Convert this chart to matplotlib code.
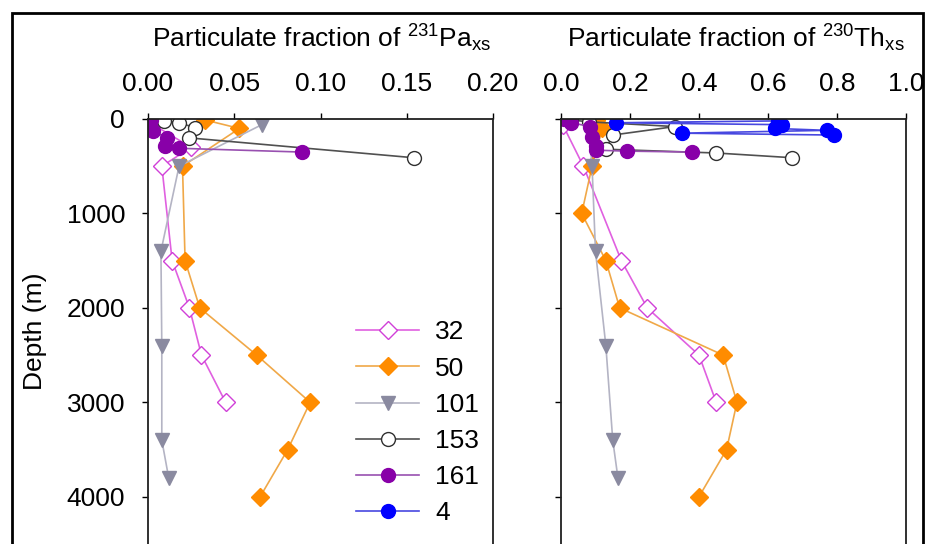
import matplotlib
matplotlib.use("Agg")
import matplotlib.pyplot as plt
from matplotlib.patches import Rectangle

plt.rcParams['font.family'] = ['Liberation Sans', 'DejaVu Sans']
plt.rcParams['mathtext.fontset'] = 'custom'
plt.rcParams['mathtext.rm'] = 'Liberation Sans'
plt.rcParams['mathtext.it'] = 'Liberation Sans:italic'

FS = 19

# estaciones y estilos
stations = ['32', '50', '101', '153', '161', '4']

# fraccion particulada de 231Pa (panel izquierdo), profundidad en m
pa_dep = {
    '32': [60, 300, 500, 1500, 2000, 2500, 3000],
    '50': [10, 100, 500, 1500, 2000, 2500, 3000, 3500, 4000],
    '101': [60, 500, 1400, 2400, 3400, 3800],
    '153': [20, 40, 90, 200, 410],
    '161': [10, 60, 130, 200, 290, 310, 350],
    '4': [],
}
pa_val = {
    '32': [0.003, 0.025, 0.008, 0.014, 0.024, 0.031, 0.045],
    '50': [0.033, 0.053, 0.020, 0.0215, 0.030, 0.063, 0.094, 0.081, 0.065],
    '101': [0.066, 0.018, 0.0075, 0.008, 0.008, 0.012],
    '153': [0.009, 0.018, 0.027, 0.024, 0.154],
    '161': [0.002, 0.001, 0.003, 0.011, 0.010, 0.018, 0.089],
    '4': [],
}

# fraccion particulada de 230Th (panel derecho)
th_dep = {
    '32': [60, 500, 1500, 2000, 2500, 3000],
    '50': [10, 100, 500, 1000, 1500, 2000, 2500, 3000, 3500, 4000],
    '101': [60, 500, 1400, 2400, 3400, 3800],
    '153': [10, 30, 80, 170, 320, 360, 410],
    '161': [5, 40, 80, 190, 290, 330, 340, 350],
    '4': [20, 40, 60, 100, 120, 150, 170],
}
th_val = {
    '32': [0.005, 0.065, 0.175, 0.25, 0.40, 0.45],
    '50': [0.10, 0.12, 0.09, 0.06, 0.13, 0.17, 0.47, 0.51, 0.48, 0.40],
    '101': [0.08, 0.09, 0.10, 0.13, 0.15, 0.165],
    '153': [0.03, 0.08, 0.33, 0.15, 0.13, 0.45, 0.67],
    '161': [0.01, 0.03, 0.085, 0.09, 0.10, 0.10, 0.19, 0.38],
    '4': [0.63, 0.16, 0.64, 0.62, 0.77, 0.35, 0.79],
}

styles = {
    '32': dict(color='#e060e0', marker='D', mfc='white', mec='#d040d8', ms=9.5),
    '50': dict(color='#f0a848', marker='D', mfc='#ff8c00', mec='#ff8c00', ms=9.5),
    '101': dict(color='#b4b4c4', marker='v', mfc='#8a8aa0', mec='#8a8aa0', ms=10.5),
    '153': dict(color='#505050', marker='o', mfc='white', mec='#303030', ms=10),
    '161': dict(color='#9850b0', marker='o', mfc='#8800a8', mec='#8800a8', ms=10),
    '4': dict(color='#4848e0', marker='o', mfc='#0000ff', mec='#0000ff', ms=10),
}

W, H = 930, 544
fig = plt.figure(figsize=(W / 100, H / 100), dpi=100)
ax1 = fig.add_axes([148 / W, 0, 345 / W, 425 / H])
ax2 = fig.add_axes([561 / W, 0, 345 / W, 425 / H])

for s in stations:
    ax1.plot(pa_val[s], pa_dep[s], lw=1.2, label=s, **styles[s])
    ax2.plot(th_val[s], th_dep[s], lw=1.2, label=s, **styles[s])

ax1.set_xlim(0, 0.20)
ax1.set_xticks([0, 0.05, 0.10, 0.15, 0.20])
ax1.set_xticklabels(['0.00', '0.05', '0.10', '0.15', '0.20'])
ax2.set_xlim(0, 1.0)
ax2.set_xticks([0, 0.2, 0.4, 0.6, 0.8, 1.0])
ax2.set_xticklabels(['0.0', '0.2', '0.4', '0.6', '0.8', '1.0'])

for ax in (ax1, ax2):
    ax.set_ylim(4500, 0)
    ax.set_yticks([0, 1000, 2000, 3000, 4000])
    ax.spines['bottom'].set_visible(False)
    for sp in ('top', 'left', 'right'):
        ax.spines[sp].set_linewidth(1.3)
        ax.spines[sp].set_color('#202020')
    ax.tick_params(axis='x', top=True, bottom=False, labeltop=True, labelbottom=False,
                   direction='out', length=4.5, width=1, pad=12, labelsize=FS)
    ax.tick_params(axis='y', direction='out', length=4.5, width=1, pad=12, labelsize=FS)

ax2.tick_params(axis='y', labelleft=False)
ax1.set_ylabel('Depth (m)', fontsize=FS, labelpad=14)

fig.text(322 / W, 1 - 47 / H, r'Particulate fraction of $^{231}$Pa$_{\mathrm{xs}}$',
         ha='center', va='baseline', fontsize=FS)
fig.text(736 / W, 1 - 47 / H, r'Particulate fraction of $^{230}$Th$_{\mathrm{xs}}$',
         ha='center', va='baseline', fontsize=FS)

ax1.legend(loc='upper left', bbox_to_anchor=(0.565, 0.557), frameon=False, fontsize=FS,
           handlelength=2.4, handletextpad=0.6, labelspacing=0.46, borderpad=0,
           numpoints=1)

# marco negro alrededor de la figura
fig.patches.append(Rectangle((12 / W, -0.1), (923 - 12) / W, 1 - 13 / H + 0.1,
                             transform=fig.transFigure, fill=False, lw=2, ec='black'))

fig.savefig('out.png', dpi=100)
